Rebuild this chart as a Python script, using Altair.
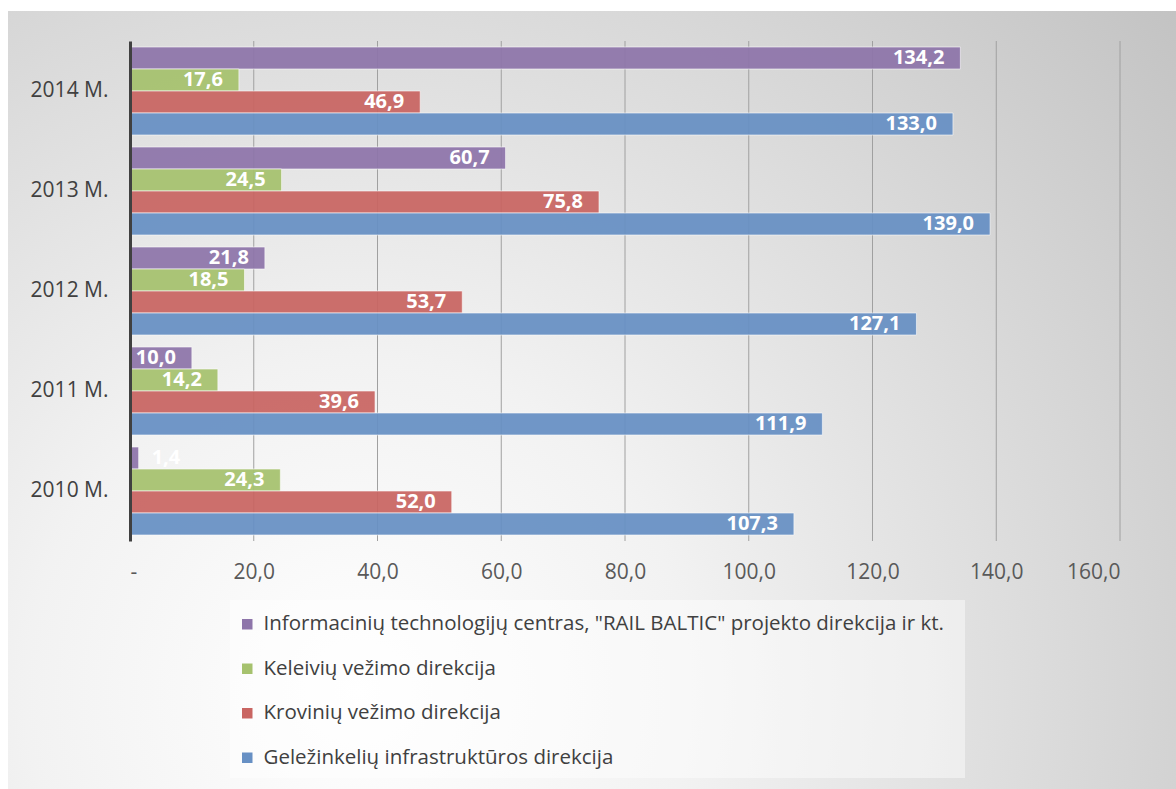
import altair as alt
import pandas as pd

years = ["2014 M.", "2013 M.", "2012 M.", "2011 M.", "2010 M."]
series = [
    "Informacinių technologijų centras, \"RAIL BALTIC\" projekto direkcija ir kt.",
    "Keleivių vežimo direkcija",
    "Krovinių vežimo direkcija",
    "Geležinkelių infrastruktūros direkcija",
]
colors = ["#8E75AA", "#A6C26E", "#C96562", "#6790C4"]
it_vals = [134.2, 60.7, 21.8, 10.0, 1.4]
kel_vals = [17.6, 24.5, 18.5, 14.2, 24.3]
krov_vals = [46.9, 75.8, 53.7, 39.6, 52.0]
inf_vals = [133.0, 139.0, 127.1, 111.9, 107.3]
x_ticks = [0, 20, 40, 60, 80, 100, 120, 140, 160]

rows = []
for s, vals in zip(series, [it_vals, kel_vals, krov_vals, inf_vals]):
    for y, v in zip(years, vals):
        rows.append({"year": y, "series": s, "value": v,
                     "label": f"{v:.1f}".replace(".", ",")})
df = pd.DataFrame(rows)
grid_df = pd.DataFrame({"tick": x_ticks[1:]})

W, H = 990, 500
FONT = "Open Sans"
xscale = alt.Scale(domain=[0, 160])

bg = alt.Chart(pd.DataFrame({"a": [0]})).mark_rect(
    color=alt.Gradient(
        gradient="radial",
        stops=[alt.GradientStop(color="#ffffff", offset=0),
               alt.GradientStop(color="#f2f2f2", offset=0.3),
               alt.GradientStop(color="#c0c0c0", offset=1)],
        x1=0.3, y1=0.75, r1=0, x2=0.3, y2=0.75, r2=0.95,
    )
).encode(x=alt.value(-122), x2=alt.value(1046), y=alt.value(-30), y2=alt.value(748))

legbox = alt.Chart(pd.DataFrame({"a": [0]})).mark_rect(
    color="white", opacity=0.45
).encode(x=alt.value(100), x2=alt.value(835), y=alt.value(559), y2=alt.value(737))

grid = alt.Chart(grid_df).mark_rule(color="#a0a0a0", strokeWidth=1).encode(
    x=alt.X("tick:Q", scale=xscale), y=alt.value(0), y2=alt.value(H)
)

y_enc = alt.Y("year:N", sort=years,
              scale=alt.Scale(paddingInner=0.12, paddingOuter=0.06),
              axis=alt.Axis(title=None, ticks=False, domain=True, domainColor="#404040",
                            domainWidth=3, labelFont=FONT, labelFontSize=21,
                            labelColor="#404040", labelPadding=22, grid=False, zindex=2))
yoff = alt.YOffset("series:N", sort=series, scale=alt.Scale(paddingInner=0, paddingOuter=0))

bars = alt.Chart(df).mark_bar(opacity=0.93, stroke="white", strokeWidth=1, strokeOpacity=0.6).encode(
    x=alt.X("value:Q", scale=xscale,
            axis=alt.Axis(title=None, values=x_ticks, domain=False, ticks=False,
                          grid=False, zindex=2,
                          labelFont=FONT, labelFontSize=21, labelColor="#595959",
                          labelPadding=20,
                          labelExpr="datum.value == 0 ? '-' : replace(format(datum.value, '.1f'), '.', ',')")),
    y=y_enc,
    yOffset=yoff,
    color=alt.Color("series:N", sort=series,
                    scale=alt.Scale(domain=series, range=colors),
                    legend=alt.Legend(title=None, orient="none", legendX=107, legendY=573,
                                      direction="vertical", symbolType="square",
                                      symbolSize=110, symbolStrokeWidth=0, symbolOpacity=1,
                                      labelFont=FONT, labelFontSize=20.5, labelColor="#404040",
                                      rowPadding=23.5, labelLimit=900, padding=0,
                                      labelOffset=6)),
)

text_in = alt.Chart(df).transform_filter("datum.value >= 5").mark_text(
    align="right", baseline="middle", dx=-16, dy=0, color="white",
    font=FONT, fontSize=20, fontWeight="bold"
).encode(x="value:Q", y=alt.Y("year:N", sort=years), yOffset=yoff, text="label:N")

text_out = alt.Chart(df).transform_filter("datum.value < 5").mark_text(
    align="left", baseline="middle", dx=13, dy=0, color="white",
    font=FONT, fontSize=20, fontWeight="bold"
).encode(x="value:Q", y=alt.Y("year:N", sort=years), yOffset=yoff, text="label:N")

chart = alt.layer(bg, legbox, grid, bars, text_in, text_out).properties(
    width=W, height=H, background="white",
    padding={"left": 8, "top": 11, "right": 0, "bottom": 0}
).configure_view(stroke="transparent")

chart.save("out.html", embed_options={"renderer": "svg", "actions": False})
